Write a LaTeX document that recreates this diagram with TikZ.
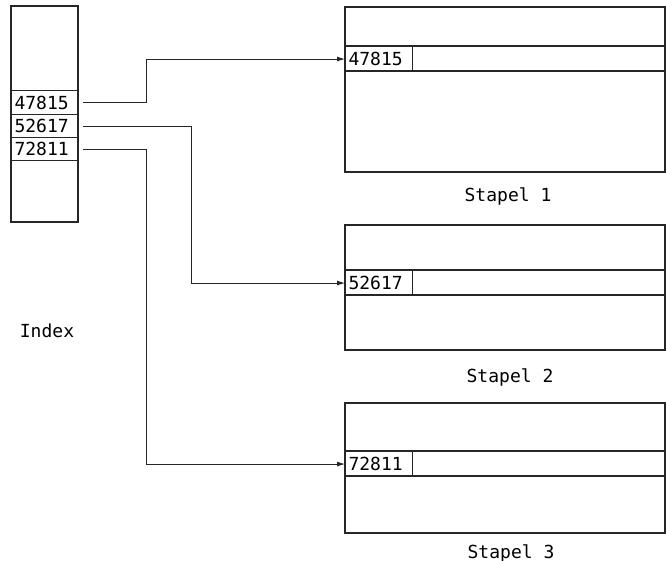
\documentclass[tikz,border=0pt]{standalone}
\usepackage{fontspec}
\setmonofont{DejaVu Sans Mono}
\usetikzlibrary{arrows.meta,positioning}

\begin{document}
\begin{tikzpicture}[x=1pt,y=-1pt]

\tikzset{
  boxline/.style={draw=black!85, line width=1.1pt},
  keycell/.style={draw=black!85, line width=1.1pt, anchor=north west,
                  font=\ttfamily\fontsize{18}{18}\selectfont,
                  minimum width=67pt, minimum height=24pt, inner sep=3pt,
                  text width=61pt, align=left},
  lbl/.style={font=\ttfamily\fontsize{18}{18}\selectfont, anchor=base},
  link/.style={black!85, line width=0.9pt, shorten <=4pt,
                  -{Latex[length=8pt, width=5pt]}}
}

\newcommand{\stapel}[5]{
  \draw[boxline] (345,#2) rectangle (665,#4);
  \draw[boxline] (345,#3) rectangle (665,#3+25);
  \node[keycell, minimum height=25pt] (#1) at (345,#3) {#5};
}

\useasboundingbox (0,0) rectangle (666,561);

% Index
\draw[boxline] (11,6) rectangle (78,222);
\node[keycell] (r1) at (11,90) {47815};
\node[keycell, minimum height=23pt] (r2) at (11,114) {52617};
\node[keycell, minimum height=23pt] (r3) at (11,137) {72811};
\node[lbl] (idx) at (47,337) {Index};

% Stapel
\stapel{k1}{7}{46}{172}{47815}
\stapel{k2}{225}{270}{350}{52617}
\stapel{k3}{403}{451}{533}{72811}

\node[lbl] (s1) at (508,202) {Stapel 1};
\node[lbl] (s2) at (510,382) {Stapel 2};
\node[lbl] (s3) at (511,558) {Stapel 3};

% Links
\coordinate (bendA) at (146,0);
\coordinate (bendB) at (191,0);
\draw[link] (r1.east) -- (r1.east -| bendA) |- (k1.west);
\draw[link] (r2.east) -- (r2.east -| bendB) |- (k2.west);
\draw[link] (r3.east) -- (r3.east -| bendA) |- (k3.west);

\end{tikzpicture}
\end{document}
